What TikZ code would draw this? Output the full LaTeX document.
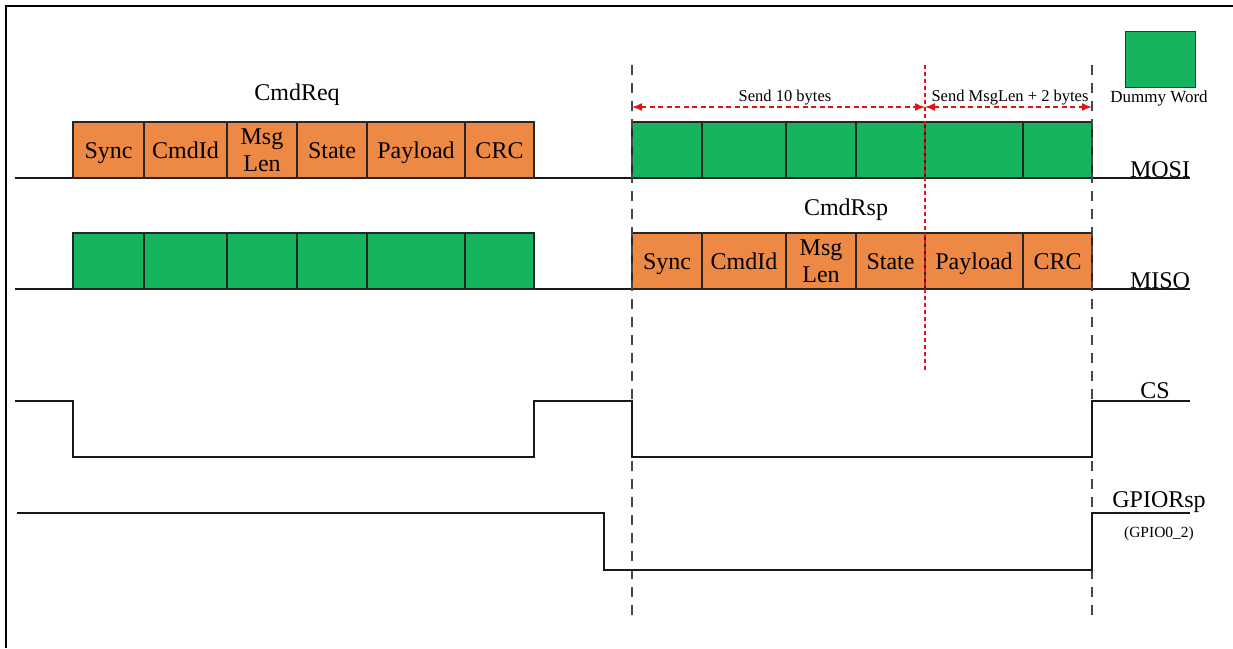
\documentclass[tikz,border=0pt]{standalone}
\usepackage{fontspec}
\setmainfont{Liberation Serif}
\usetikzlibrary{arrows.meta}
\definecolor{orng}{RGB}{237,137,68}
\definecolor{grn}{RGB}{22,180,94}
\definecolor{redd}{RGB}{225,20,20}
\definecolor{dgray}{RGB}{70,70,70}
\begin{document}
\begin{tikzpicture}[x=1pt,y=-1pt,
  field/.style={draw=black!85, line width=1.2pt, minimum height=56pt, inner sep=0pt, outer sep=0pt,
    anchor=north west, font=\fontsize{24}{25}\selectfont, align=center},
  ofield/.style={field, fill=orng},
  gfield/.style={field, fill=grn},
  one/.style={text height=16pt, text depth=0pt},
  two/.style={label={[font=\fontsize{24}{27}\selectfont, align=center, inner sep=0pt, yshift=-0.5pt]center:{Msg\\Len}}},
  signal/.style={line width=2pt, black!90, line join=miter},
  lbl/.style={anchor=base, inner sep=0pt, font=\fontsize{24}{25}\selectfont},
  smalllbl/.style={anchor=base, inner sep=0pt, font=\fontsize{16.5}{17}\selectfont},
  marker/.style={dgray, line width=1.5pt, dash pattern=on 10pt off 8pt},
  redmarker/.style={redd, line width=1.2pt, dash pattern=on 4pt off 3pt},
  span/.style={redd, line width=1.4pt, dash pattern=on 5pt off 3.5pt, {Latex[length=10pt,width=8pt]}-{Latex[length=10pt,width=8pt]}}
]
\useasboundingbox (0,0) rectangle (1233,648);
% frame
\draw[line width=2.6pt] (6,648) -- (6,6) -- (1233,6);

% signal base lines
\coordinate (mosiL) at (15,178);
\coordinate (mosiR) at (1190,178);
\coordinate (misoL) at (15,289);
\coordinate (misoR) at (1190,289);
\draw[signal] (mosiL) -- (mosiR);
\draw[signal] (misoL) -- (misoR);

% CmdReq fields on MOSI
\foreach \n/\x/\w/\t/\s in {q1/73/71/Sync/one, q2/144/83/CmdId/one, q3/227/70/{}/two, q4/297/70/State/one, q5/367/98/Payload/one, q6/465/69/CRC/one}
  \node[ofield, \s, minimum width=\w pt] (\n) at (\x,122) {\t};
% dummy words on MISO (left)
\foreach \n/\x/\w in {d1/73/71, d2/144/83, d3/227/70, d4/297/70, d5/367/98, d6/465/69}
  \node[gfield, minimum width=\w pt] (\n) at (\x,233) {};
% dummy words on MOSI (right)
\foreach \n/\x/\w in {e1/632/70, e2/702/84, e3/786/70, e4/856/69, e5/925/98, e6/1023/69}
  \node[gfield, minimum width=\w pt] (\n) at (\x,122) {};
% CmdRsp fields on MISO
\foreach \n/\x/\w/\t/\s in {r1/632/70/Sync/one, r2/702/84/CmdId/one, r3/786/70/{}/two, r4/856/69/State/one, r5/925/98/Payload/one, r6/1023/69/CRC/one}
  \node[ofield, \s, minimum width=\w pt] (\n) at (\x,233) {\t};

% titles
\node[lbl] (cmdreq) at (297,100) {CmdReq};
\node[lbl] (cmdrsp) at (846,215) {CmdRsp};

% vertical markers
\coordinate (m1t) at (632,65);
\coordinate (m1b) at (632,618);
\coordinate (m2t) at (1092,65);
\coordinate (m2b) at (1092,618);
\coordinate (m3t) at (925,65);
\coordinate (m3b) at (925,370);
\draw[marker] (m1t) -- (m1b);
\draw[marker] (m2t) -- (m2b);
\draw[redmarker] (m3t) -- (m3b);

% spans
\coordinate (a1) at (632,107);
\coordinate (a2) at (925,107);
\coordinate (a3) at (1092,107);
\draw[span] (a1) -- (a2);
\draw[span] (a2) -- (a3);
\node[smalllbl] (s10) at (785,101) {Send 10 bytes};
\node[smalllbl] (smsg) at (1010,101) {Send MsgLen + 2 bytes};

% legend
\node[draw=black!80, line width=1.2pt, fill=grn, minimum width=70pt, minimum height=56pt, inner sep=0pt, anchor=north west] (legend) at (1125,31) {};
\node[anchor=base, inner sep=0pt, font=\fontsize{17}{18}\selectfont] (dummy) at (1159,102) {Dummy Word};

% signal names
\node[lbl] (mosi) at (1160,177) {MOSI};
\node[lbl] (miso) at (1160,288) {MISO};
\node[lbl] (cs) at (1155,398) {CS};
\node[lbl] (gpio) at (1159,507) {GPIORsp};
\node[anchor=base, inner sep=0pt, font=\fontsize{15.5}{16}\selectfont] (gpio2) at (1159,537) {(GPIO0\_2)};

% CS
\draw[signal] (15,401) -- (73,401) -- (73,457) -- (534,457) -- (534,401) -- (632,401) -- (632,457) -- (1092,457) -- (1092,401) -- (1190,401);
% GPIORsp
\draw[signal] (17,513) -- (604,513) -- (604,570) -- (1092,570) -- (1092,513) -- (1190,513);
\end{tikzpicture}
\end{document}
